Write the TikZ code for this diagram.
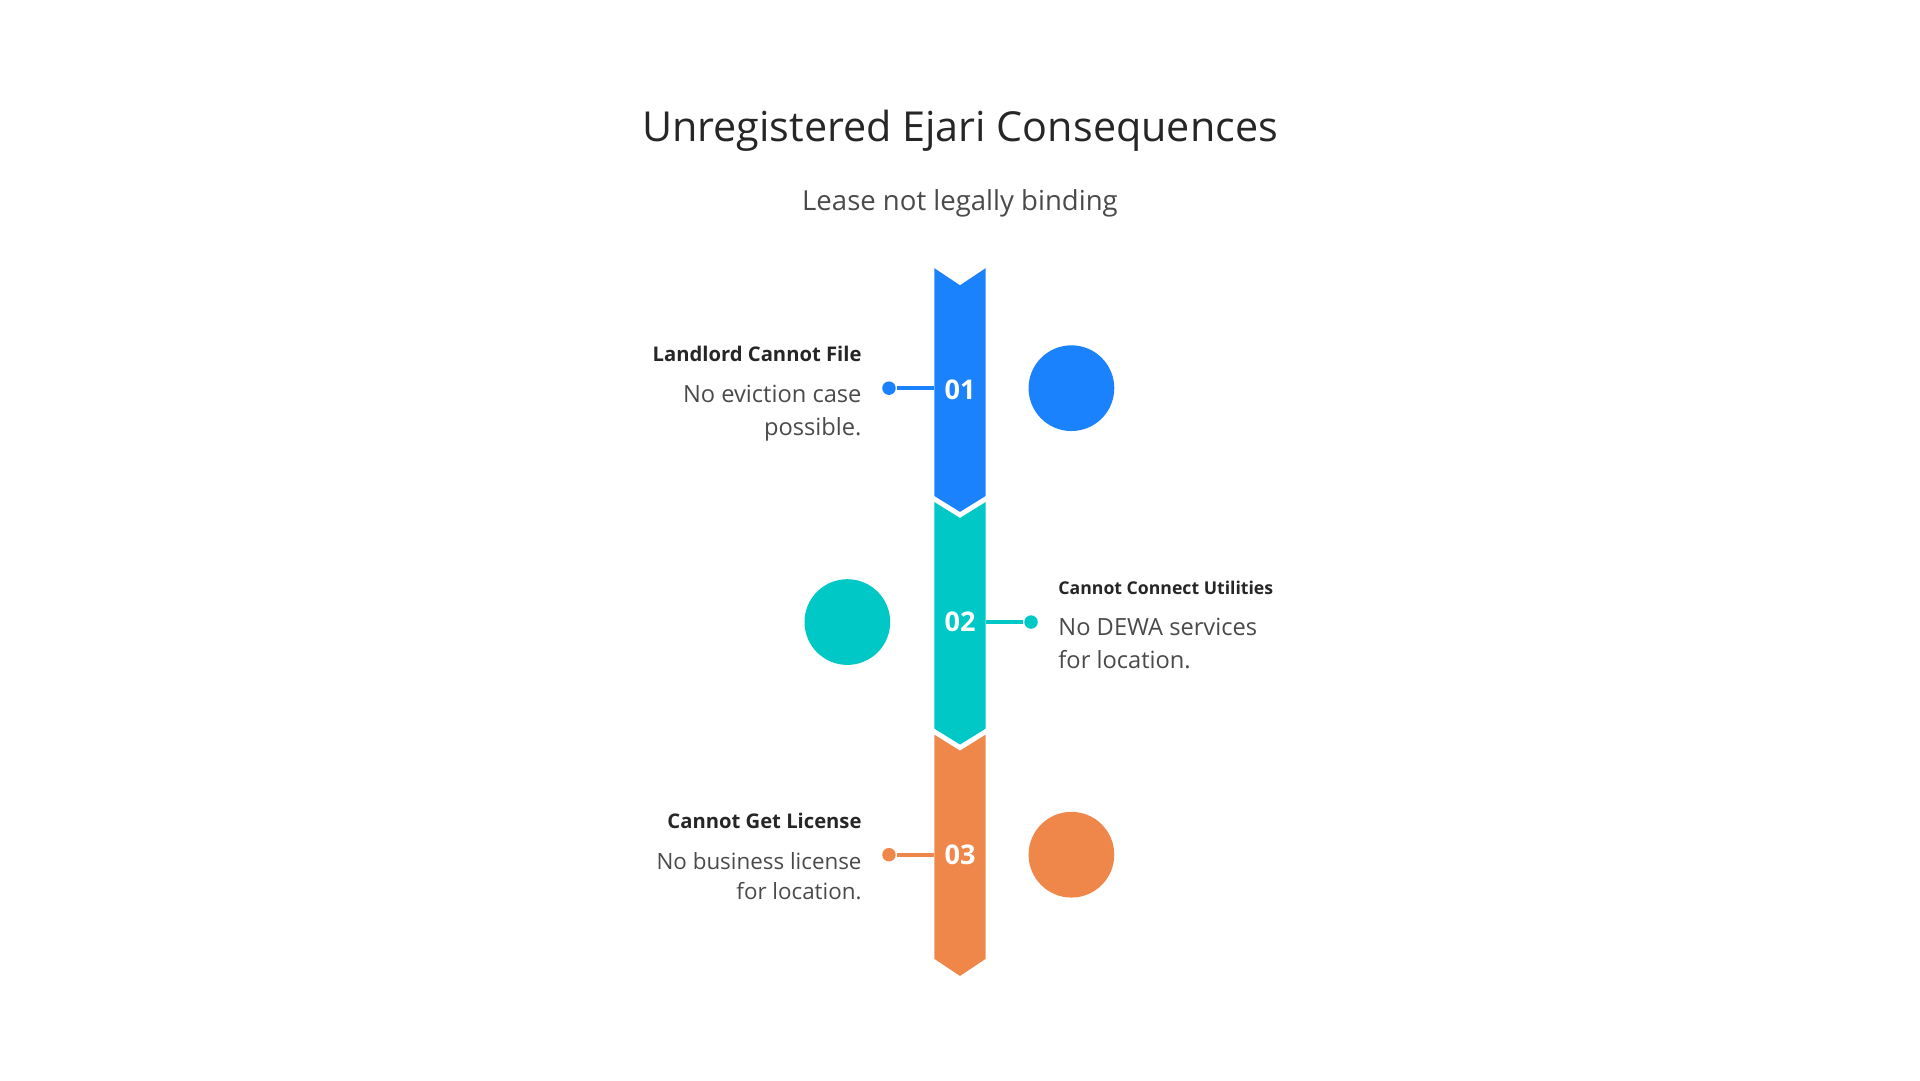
\documentclass[tikz,border=0pt]{standalone}
\usepackage{fontspec}
\setmainfont{Open Sans}
\usetikzlibrary{positioning}
\definecolor{azul}{HTML}{1A82FC}
\definecolor{verde}{HTML}{00C8C6}
\definecolor{naranja}{HTML}{F0874A}
\definecolor{texto}{HTML}{4A4A4A}
\tikzset{
  circulo/.style={circle,minimum size=7mm,inner sep=0pt},
  punto/.style={circle,minimum size=1.1mm,inner sep=0pt},
  numero/.style={text=white,font=\fontsize{6.3}{7}\selectfont\bfseries},
  titulo/.style={font=\fontsize{4.7}{5.5}\selectfont\bfseries,text=black!85},
  cuerpo/.style={font=\fontsize{5.5}{7.8}\selectfont,text=texto}
}
\begin{document}
\begin{tikzpicture}[x=0.1mm,y=-0.1mm]
    \useasboundingbox (0,0) rectangle (1568,882);
    \node[font=\fontsize{9.6}{11}\selectfont,text=black!85] (tit) at (784,107) {Unregistered Ejari Consequences};
    \node[font=\fontsize{6.4}{8}\selectfont,text=texto] (sub) at (784,166) {Lease not legally binding};

    % segmentos
    \fill[azul] (763,219) -- (784,233) -- (805,219) -- (805,405) -- (784,418) -- (763,405) -- cycle;
    \fill[verde] (763,410) -- (784,423) -- (805,410) -- (805,595) -- (784,608) -- (763,595) -- cycle;
    \fill[naranja] (763,600) -- (784,613) -- (805,600) -- (805,783) -- (784,797) -- (763,783) -- cycle;

    \node[numero] (n1) at (784,318) {01};
    \node[numero] (n2) at (784,508) {02};
    \node[numero] (n3) at (784,698) {03};

    \node[circulo,fill=azul] (c1) at (875,317) {};
    \node[circulo,fill=verde] (c2) at (692,508) {};
    \node[circulo,fill=naranja] (c3) at (875,698) {};

    \node[punto,fill=azul] (p1) at (726,317) {};
    \node[punto,fill=verde] (p2) at (842,508) {};
    \node[punto,fill=naranja] (p3) at (726,698) {};
    \coordinate (e1) at (763,317);
    \coordinate (e2) at (805,508);
    \coordinate (e3) at (763,698);
    \draw[azul,line width=0.3mm] (p1) -- (e1);
    \draw[verde,line width=0.3mm] (e2) -- (p2);
    \draw[naranja,line width=0.3mm] (p3) -- (e3);

    \node[titulo,anchor=east] (t1) at (716,289) {Landlord Cannot File};
    \node[cuerpo,anchor=north east,align=right] (b1) at (716,302) {No eviction case\\possible.};
    \node[titulo,anchor=west,font=\fontsize{4.1}{5}\selectfont\bfseries] (t2) at (852,480) {Cannot Connect Utilities};
    \node[cuerpo,anchor=north west,align=left] (b2) at (852,492) {No DEWA services\\for location.};
    \node[titulo,anchor=east] (t3) at (716,670) {Cannot Get License};
    \node[cuerpo,anchor=north east,align=right,font=\fontsize{5.2}{7}\selectfont] (b3) at (716,684) {No business license\\for location.};
\end{tikzpicture}
\end{document}
